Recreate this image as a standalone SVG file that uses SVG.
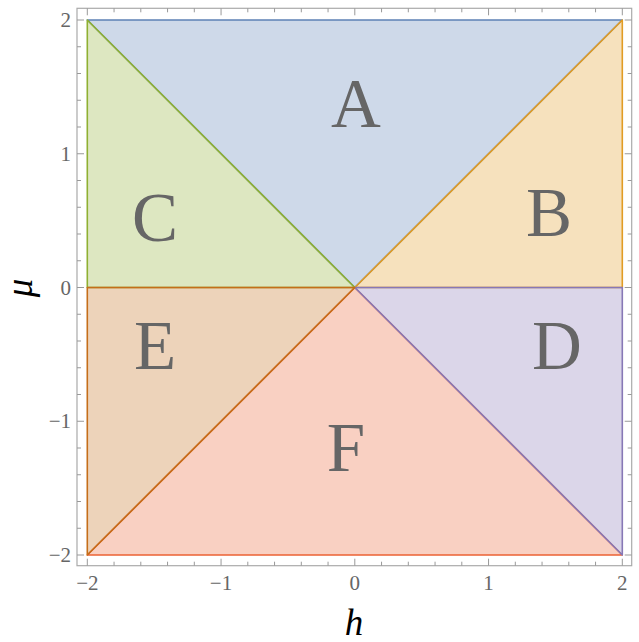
<svg xmlns="http://www.w3.org/2000/svg" width="639" height="642" viewBox="0 0 639 642">
<style>
.reg{fill-opacity:0.3;stroke-width:1.6;stroke-linejoin:round}
.frame{fill:none;stroke:#aaaaaa;stroke-width:1.2}
.tick{stroke:#999999;stroke-width:1}
.tl{font-family:"Liberation Serif","Times New Roman",serif;font-size:21px;fill:#666666}
.big{font-family:"Liberation Serif","Times New Roman",serif;font-size:69px;fill:#666666;text-anchor:middle}
.ax{font-family:"Liberation Serif","Times New Roman",serif;font-style:italic;font-size:37px;fill:#000000;text-anchor:middle}
</style>
<rect width="639" height="642" fill="#ffffff"/>
<g id="regions">
<g id="A"><polygon class="reg" points="87.3,20 622.3,20 354.8,287.5" fill="#5E81B5" stroke="#5E81B5"/></g>
<g id="F"><polygon class="reg" points="87.3,555 354.8,287.5 622.3,555" fill="#EB6235" stroke="#EB6235"/></g>
<g id="B"><polygon class="reg" points="354.8,287.5 622.3,20 622.3,287.5" fill="#E19C24" stroke="#E19C24"/></g>
<g id="C"><polygon class="reg" points="87.3,20 354.8,287.5 87.3,287.5" fill="#8FB032" stroke="#8FB032"/></g>
<g id="D"><polygon class="reg" points="354.8,287.5 622.3,287.5 622.3,555" fill="#8778B6" stroke="#8778B6"/></g>
<g id="E"><polygon class="reg" points="87.3,287.5 354.8,287.5 87.3,555" fill="#C56E1A" stroke="#C56E1A"/></g>
</g>
<g id="labels">
<text class="big" x="356" y="127">A</text>
<text class="big" x="549" y="236">B</text>
<text class="big" x="155" y="241">C</text>
<text class="big" x="557" y="369">D</text>
<text class="big" x="155" y="369">E</text>
<text class="big" x="346" y="471">F</text>
</g>
<g id="axes">
<rect class="frame" x="77" y="8.3" width="554.7" height="557.4"/>
<path class="tick" d="M87.3,565.7v-7M114.05,565.7v-4M140.8,565.7v-4M167.55,565.7v-4M194.3,565.7v-4M221.05,565.7v-7M247.8,565.7v-4M274.55,565.7v-4M301.3,565.7v-4M328.05,565.7v-4M354.8,565.7v-7M381.55,565.7v-4M408.3,565.7v-4M435.05,565.7v-4M461.8,565.7v-4M488.55,565.7v-7M515.3,565.7v-4M542.05,565.7v-4M568.8,565.7v-4M595.55,565.7v-4M622.3,565.7v-7"/>
<path class="tick" d="M87.3,8.3v7M114.05,8.3v4M140.8,8.3v4M167.55,8.3v4M194.3,8.3v4M221.05,8.3v7M247.8,8.3v4M274.55,8.3v4M301.3,8.3v4M328.05,8.3v4M354.8,8.3v7M381.55,8.3v4M408.3,8.3v4M435.05,8.3v4M461.8,8.3v4M488.55,8.3v7M515.3,8.3v4M542.05,8.3v4M568.8,8.3v4M595.55,8.3v4M622.3,8.3v7"/>
<path class="tick" d="M77,20h7M77,46.75h4M77,73.5h4M77,100.25h4M77,127h4M77,153.75h7M77,180.5h4M77,207.25h4M77,234h4M77,260.75h4M77,287.5h7M77,314.25h4M77,341h4M77,367.75h4M77,394.5h4M77,421.25h7M77,448h4M77,474.75h4M77,501.5h4M77,528.25h4M77,555h7"/>
<path class="tick" d="M631.7,20h-7M631.7,46.75h-4M631.7,73.5h-4M631.7,100.25h-4M631.7,127h-4M631.7,153.75h-7M631.7,180.5h-4M631.7,207.25h-4M631.7,234h-4M631.7,260.75h-4M631.7,287.5h-7M631.7,314.25h-4M631.7,341h-4M631.7,367.75h-4M631.7,394.5h-4M631.7,421.25h-7M631.7,448h-4M631.7,474.75h-4M631.7,501.5h-4M631.7,528.25h-4M631.7,555h-7"/>
<g class="tl" text-anchor="end">
<text x="71" y="27">2</text>
<text x="71" y="161">1</text>
<text x="71" y="295">0</text>
<text x="71" y="428">−1</text>
<text x="71" y="562">−2</text>
</g>
<g class="tl" text-anchor="middle">
<text x="87.3" y="590">−2</text>
<text x="221" y="590">−1</text>
<text x="354.8" y="590">0</text>
<text x="488.5" y="590">1</text>
<text x="622.3" y="590">2</text>
</g>
<text class="ax" x="354" y="635">h</text>
<text class="ax" transform="translate(32,288) rotate(-90)" x="0" y="0">μ</text>
</g>
</svg>
